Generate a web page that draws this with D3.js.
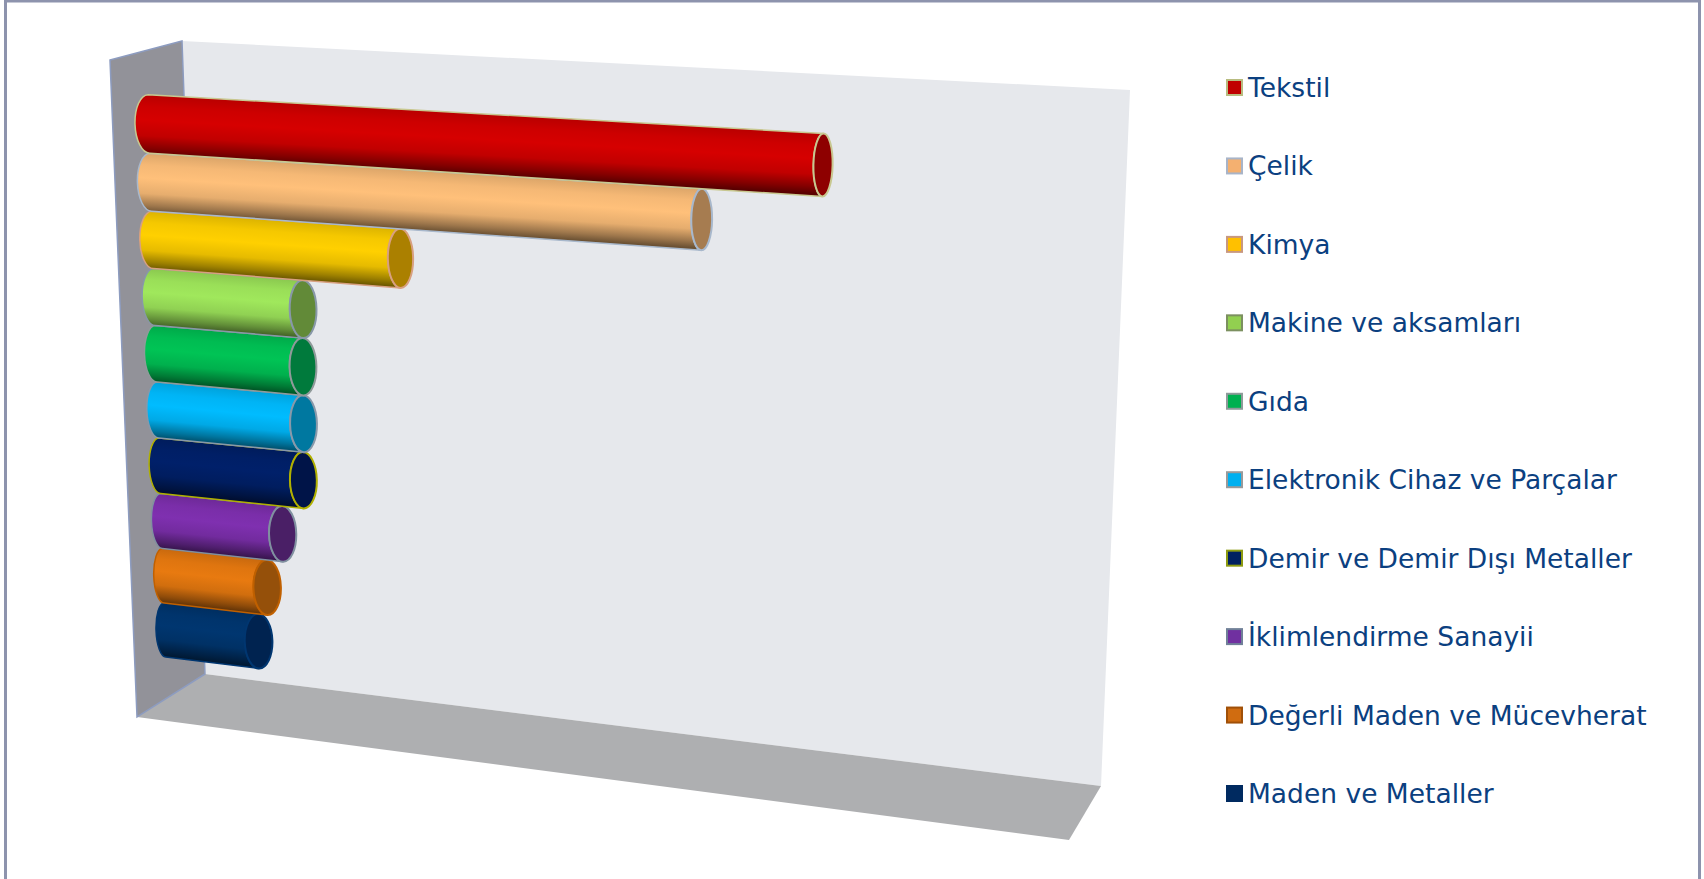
<!DOCTYPE html>
<html lang="en">
<head>
<meta charset="UTF-8">
<title>Sektorler</title>
<script src="https://d3js.org/d3.v7.min.js"></script>
<style>
    html, body { margin: 0; padding: 0; background: #fff; overflow: hidden; }
    .legend text { font-family: "DejaVu Sans", sans-serif; font-size: 26.5px; fill: #0b4080; }
</style>
</head>
<body>
<script>
    var categories = ["Tekstil", "Çelik", "Kimya", "Makine ve aksamları", "Gıda",
        "Elektronik Cihaz ve Parçalar", "Demir ve Demir Dışı Metaller",
        "İklimlendirme Sanayii", "Değerli Maden ve Mücevherat", "Maden ve Metaller"];
    // no numbers in the picture, read as share of the longest bar
    var values = [100, 83.2, 38.9, 23.7, 23.5, 23.4, 23.2, 19.7, 17, 15.4];
    var bodyColors = ["#d60000", "#ffc07a", "#ffd000", "#a0e85c", "#00c455",
        "#00bcff", "#00206a", "#7f30b0", "#e87a10", "#003670"];
    var capColors = ["#8e0000", "#a67c50", "#ab8000", "#628a38", "#007a3c",
        "#0078a0", "#001448", "#4a1f66", "#95500a", "#002350"];
    var edgeColors = ["#c8c890", "#a8b8cc", "#d8a080", "#8898a8", "#8f9a9a",
        "#8899aa", "#b0b000", "#8090a0", "#c06000", "#003670"];
    var swatchColors = ["#c00000", "#f4b070", "#ffc000", "#92d050", "#00b050",
        "#00b0f0", "#002060", "#7030a0", "#d06c10", "#002a60"];
    var swatchEdges = ["#b8bc80", "#a8b4c8", "#c89880", "#7c9060", "#8f9a9a",
        "#9a9a9a", "#8c9a10", "#708098", "#a05008", "#002a60"];

    var width = 1704, height = 879;

    var svg = d3.select("body").append("svg")
        .attr("width", width)
        .attr("height", height)
        .style("display", "block");

    var defs = svg.append("defs");

    // outer frame
    svg.append("path")
        .attr("d", "M5.5,879V1H1699.5V879")
        .attr("fill", "none")
        .attr("stroke", "#8d93ad")
        .attr("stroke-width", 3);

    // box walls
    var line = d3.line();
    svg.append("path").attr("d", line([[182, 41], [1130, 90], [1101, 786], [205, 674]]) + "Z")
        .attr("fill", "#e6e8ec");
    svg.append("path").attr("d", line([[137, 717], [205, 674], [1101, 786], [1069, 840]]) + "Z")
        .attr("fill", "#aeafb1");
    svg.append("path").attr("d", line([[110, 60], [182, 41], [205, 674], [137, 717]]) + "Z")
        .attr("fill", "#929299")
        .attr("stroke", "#8d9cc0")
        .attr("stroke-width", 1.5);

    // value and category scales live on a flat plane, project() puts that plane in perspective
    var x = d3.scaleLinear().domain([0, d3.max(values)]).range([0, 1]);
    var y = d3.scalePoint().domain(categories).range([0, 1]);
    var bandHalf = y.step() * 0.5;

    // width of the end ellipses changes across the chart
    var rxStart = d3.scaleLinear().domain([0, 1]).range([14, 9]);
    var rxEnd = d3.scaleLinear().domain([0, 1]).range([14.6, 9.6]);

    // corners of the plane through the bar axes: u=0/w=0, u=1/w=0, u=1/w=1, u=0/w=1
    var corners = [[149, 124], [823, 165], [812, 708], [165, 630]];
    var H = homography(corners);

    function homography(c) {
        var dx1 = c[1][0] - c[2][0], dx2 = c[3][0] - c[2][0], sx = c[0][0] - c[1][0] + c[2][0] - c[3][0];
        var dy1 = c[1][1] - c[2][1], dy2 = c[3][1] - c[2][1], sy = c[0][1] - c[1][1] + c[2][1] - c[3][1];
        var det = dx1 * dy2 - dx2 * dy1;
        var g = (sx * dy2 - dx2 * sy) / det;
        var h = (dx1 * sy - sx * dy1) / det;
        return [c[1][0] - c[0][0] + g * c[1][0], c[3][0] - c[0][0] + h * c[3][0], c[0][0],
                c[1][1] - c[0][1] + g * c[1][1], c[3][1] - c[0][1] + h * c[3][1], c[0][1], g, h];
    }

    function project(u, w) {
        var d = H[6] * u + H[7] * w + 1;
        return [(H[0] * u + H[1] * w + H[2]) / d, (H[3] * u + H[4] * w + H[5]) / d];
    }

    function shade(color, k) {
        var c = d3.rgb(color);
        return d3.rgb(c.r * k, c.g * k, c.b * k).formatHex();
    }

    function arcTo(p, rx, ry, rot, sweep) {
        return "A" + rx + "," + ry + " " + rot + " 0 " + sweep + " " + p[0] + "," + p[1];
    }

    var bars = svg.append("g").attr("class", "bars");

    // lower bars first so the upper one lies on top of its neighbour
    d3.range(categories.length - 1, -1, -1).forEach(function(i) {
        var w = y(categories[i]);
        var u = x(values[i]);
        var a = project(0, w - bandHalf), b = project(0, w + bandHalf);
        var c = project(u, w - bandHalf), d = project(u, w + bandHalf);
        var ryStart = Math.hypot(b[0] - a[0], b[1] - a[1]) / 2;
        var ryEnd = Math.hypot(d[0] - c[0], d[1] - c[1]) / 2;
        var rotStart = Math.atan2(b[1] - a[1], b[0] - a[0]) * 180 / Math.PI;
        var rotEnd = Math.atan2(d[1] - c[1], d[0] - c[0]) * 180 / Math.PI;
        var rs = rxStart(w), re = rxEnd(u);

        // shading runs straight across the bar, not straight down the page
        var mTop = [(a[0] + c[0]) / 2, (a[1] + c[1]) / 2];
        var mBot = [(b[0] + d[0]) / 2, (b[1] + d[1]) / 2];
        var len = Math.hypot(c[0] - a[0], c[1] - a[1]);
        var nx = -(c[1] - a[1]) / len, ny = (c[0] - a[0]) / len;
        var across = (mBot[0] - mTop[0]) * nx + (mBot[1] - mTop[1]) * ny;

        var grad = defs.append("linearGradient")
            .attr("id", "bar" + i)
            .attr("gradientUnits", "userSpaceOnUse")
            .attr("x1", mTop[0]).attr("y1", mTop[1])
            .attr("x2", mTop[0] + nx * across).attr("y2", mTop[1] + ny * across);
        [[0, 0.86], [0.2, 0.96], [0.42, 1], [0.68, 0.9], [0.88, 0.62], [1, 0.42]].forEach(function(s) {
            grad.append("stop")
                .attr("offset", s[0])
                .attr("stop-color", shade(bodyColors[i], s[1]));
        });

        var body = "M" + a[0] + "," + a[1] + "L" + c[0] + "," + c[1]
            + arcTo(d, ryEnd, re, rotEnd, 0)
            + "L" + b[0] + "," + b[1]
            + arcTo(a, ryStart, rs, rotStart, 1) + "Z";
        bars.append("path")
            .attr("d", body)
            .attr("fill", "url(#bar" + i + ")")
            .attr("stroke", edgeColors[i])
            .attr("stroke-width", 1.5);

        var cap = "M" + c[0] + "," + c[1]
            + arcTo(d, ryEnd, re, rotEnd, 1)
            + arcTo(c, ryEnd, re, rotEnd, 1) + "Z";
        bars.append("path")
            .attr("d", cap)
            .attr("fill", capColors[i])
            .attr("stroke", edgeColors[i])
            .attr("stroke-width", 2);
    });

    // legend
    var legendY = d3.scalePoint().domain(categories).range([88, 794]);
    var legend = svg.append("g").attr("class", "legend")
        .selectAll("g")
        .data(categories)
        .enter().append("g")
        .attr("transform", function(d) { return "translate(1226," + legendY(d) + ")"; });

    legend.append("rect")
        .attr("x", 1).attr("y", -8)
        .attr("width", 15).attr("height", 15)
        .attr("fill", function(d, i) { return swatchColors[i]; })
        .attr("stroke", function(d, i) { return swatchEdges[i]; })
        .attr("stroke-width", 2);

    legend.append("text")
        .attr("x", 22)
        .attr("y", 9)
        .text(function(d) { return d; });
</script>
</body>
</html>
